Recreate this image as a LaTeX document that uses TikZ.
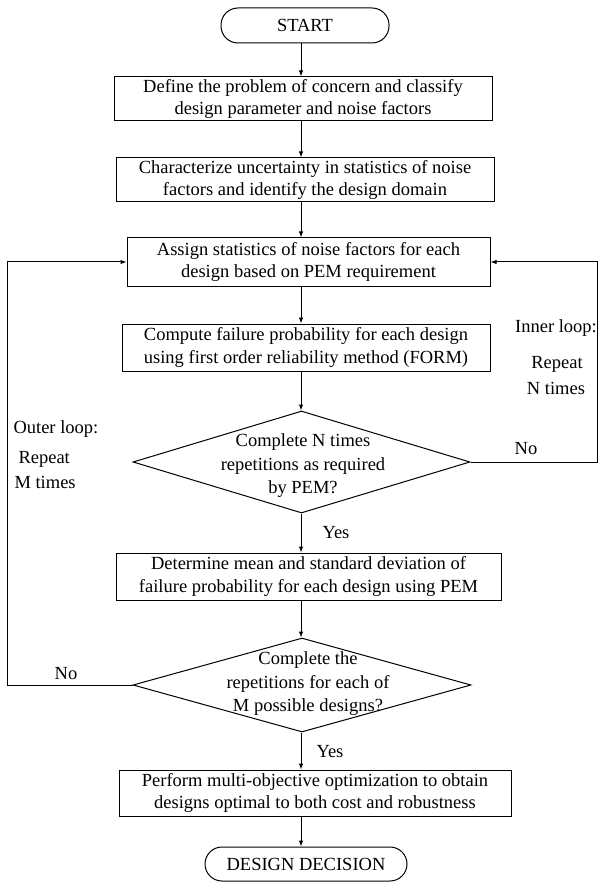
\documentclass[tikz,border=0pt]{standalone}
\usepackage{fontspec}
\setmainfont{Liberation Serif}
\usetikzlibrary{shapes.geometric,arrows.meta}
\begin{document}
\begin{tikzpicture}[x=1pt,y=-1pt,line width=1pt,
  txtfont/.style={font=\fontsize{18.5}{22.5}\selectfont},
  box/.style={draw,rectangle,inner sep=0pt,align=center,txtfont},
  term/.style={draw,rectangle,rounded corners=17pt,inner sep=0pt,align=center,txtfont},
  dia/.style={draw,diamond,inner sep=0pt},
  diatext/.style={inner sep=0pt,align=center,font=\fontsize{18.5}{23.5}\selectfont},
  lbl/.style={inner sep=0pt,txtfont},
  arr/.style={-{Latex[length=6pt,width=4.5pt]}}
]
\useasboundingbox (0,0) rectangle (598,882);
\coordinate (cx) at (301,0);
\coordinate (rx) at (597,0);
\coordinate (lx) at (7,0);

\node[term,minimum width=168,minimum height=35] (st) at (305,25.5) {START};
\node[box,minimum width=378,minimum height=44] (b1) at (303,99)
  {Define the problem of concern and classify\\design parameter and noise factors};
\node[box,minimum width=378,minimum height=44] (b2) at (305,180)
  {Characterize uncertainty in statistics of noise\\factors and identify the design domain};
\node[box,minimum width=363,minimum height=48] (b3) at (308.5,262)
  {Assign statistics of noise factors for each\\design based on PEM requirement};
\node[box,minimum width=368,minimum height=47] (b4) at (306,347.5)
  {Compute failure probability for each design\\using first order reliability method (FORM)};
\node[dia,minimum width=337,minimum height=102] (d1) at (301.5,462) {};
\node[diatext] (d1t) at (303,466) {Complete N times\\repetitions as required\\by PEM?};
\node[box,minimum width=385,minimum height=47] (b5) at (308.5,576.5)
  {Determine mean and standard deviation of\\failure probability for each design using PEM};
\node[dia,minimum width=338,minimum height=94] (d2) at (302,685) {};
\node[diatext] (d2t) at (308,684) {Complete the\\repetitions for each of\\M possible designs?};
\node[box,minimum width=392,minimum height=46] (b6) at (315,793)
  {Perform multi-objective optimization to obtain\\designs optimal to both cost and robustness};
\node[term,minimum width=202,minimum height=34] (dd) at (306,864) {DESIGN DECISION};

\draw[arr] (st.south -| cx) -- (b1.north -| cx);
\draw[arr] (b1.south -| cx) -- (b2.north -| cx);
\draw[arr] (b2.south -| cx) -- (b3.north -| cx);
\draw[arr] (b3.south -| cx) -- (b4.north -| cx);
\draw[arr] (b4.south -| cx) -- (d1.north -| cx);
\draw[arr] (d1.south -| cx) -- (b5.north -| cx);
\draw[arr] (b5.south -| cx) -- (d2.north -| cx);
\draw[arr] (d2.south -| cx) -- (b6.north -| cx);
\draw[arr] (b6.south -| cx) -- (dd.north -| cx);

\draw[arr] (d1.east) -- (d1.east -| rx) |- (b3.east);
\draw[arr] (d2.west) -- (d2.west -| lx) |- (b3.west);

\node[lbl] (no1) at (526,449) {No};
\node[lbl] (no2) at (66,674) {No};
\node[lbl,anchor=west] (yes1) at (322,533) {Yes};
\node[lbl,anchor=west] (yes2) at (316,752) {Yes};
\node[lbl] (inl) at (556,328) {Inner loop:};
\node[lbl] (rn) at (557,364) {Repeat};
\node[lbl] (nt) at (556,388) {N times};
\node[lbl,anchor=west] (outl) at (13,429) {Outer loop:};
\node[lbl,anchor=west] (rm) at (18,459) {Repeat};
\node[lbl,anchor=west] (mt) at (14,482) {M times};
\end{tikzpicture}
\end{document}
